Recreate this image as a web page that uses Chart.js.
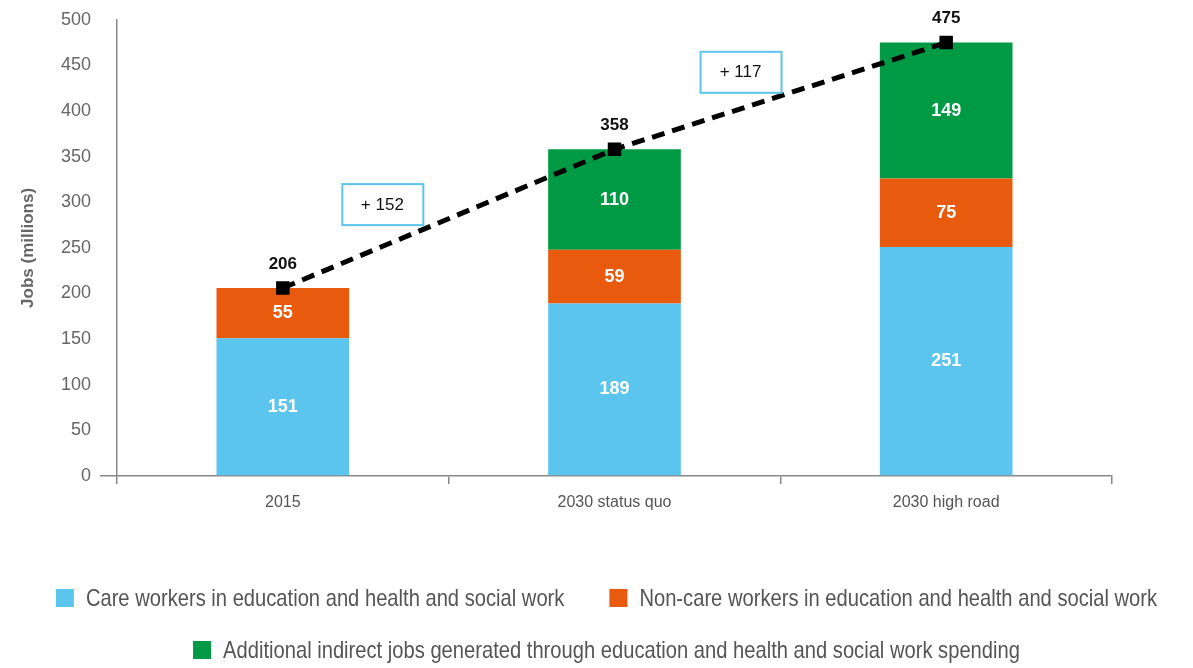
<!DOCTYPE html>
<html>
<head>
<meta charset="utf-8">
<script src="https://cdn.jsdelivr.net/npm/chart.js@4.4.1/dist/chart.umd.min.js"></script>
<style>
  html, body { margin: 0; padding: 0; background: #fff; }
  #wrap { width: 1193px; height: 668px; }
</style>
</head>
<body>
<div id="wrap"><canvas id="myChart" width="1193" height="668"></canvas></div>
<script>
const categories = ['2015', '2030 status quo', '2030 high road'];
const careWorkers = [151, 189, 251];
const nonCareWorkers = [55, 59, 75];
const indirectJobs = [0, 110, 149];
const totals = [206, 358, 475];
const yTicks = [0, 50, 100, 150, 200, 250, 300, 350, 400, 450, 500];
const seriesNames = [
    'Care workers in education and health and social work',
    'Non-care workers in education and health and social work',
    'Additional indirect jobs generated through education and health and social work spending'
];
// écarts: texte, position x (en unités de catégorie), valeur y
const deltaLabels = ['+ 152', '+ 117'];
const deltaX = [0.30, 1.38];
const deltaY = [298, 443];

const blue = '#5BC5EE';
const orange = '#E85A0E';
const green = '#009A44';
const gray = '#888888';

// Étiquettes des valeurs et encadrés des écarts
const labelsPlugin = {
    id: 'valueLabels',
    afterDatasetsDraw(chart) {
        const ctx = chart.ctx;
        ctx.save();
        ctx.textAlign = 'center';
        ctx.textBaseline = 'middle';
        chart.data.datasets.forEach((ds, i) => {
            const meta = chart.getDatasetMeta(i);
            meta.data.forEach((el, j) => {
                const v = ds.data[j];
                if (!v) return;
                if (ds.type === 'line') {
                    ctx.fillStyle = '#111';
                    ctx.font = 'bold 17px "Liberation Sans", Arial';
                    ctx.fillText(v, el.x, el.y - 24);
                } else {
                    ctx.fillStyle = '#fff';
                    ctx.font = 'bold 18px "Liberation Sans", Arial';
                    ctx.fillText(v, el.x, (el.y + el.base) / 2);
                }
            });
        });
        const xs = chart.scales.x, ys = chart.scales.y;
        const step = xs.getPixelForValue(1) - xs.getPixelForValue(0);
        deltaLabels.forEach((t, k) => {
            const cx = xs.getPixelForValue(0) + deltaX[k] * step;
            const cy = ys.getPixelForValue(deltaY[k]);
            ctx.fillStyle = '#fff';
            ctx.fillRect(cx - 40, cy - 20, 81, 41);
            ctx.strokeStyle = blue;
            ctx.lineWidth = 2;
            ctx.strokeRect(cx - 40, cy - 20, 81, 41);
            ctx.fillStyle = '#111';
            ctx.font = '17px "Liberation Sans", Arial';
            ctx.fillText(t, cx, cy + 1);
        });
        ctx.restore();
    }
};

// Légende dessinée à la main (police étroite simulée)
const legendPlugin = {
    id: 'narrowLegend',
    afterDraw(chart) {
        const ctx = chart.ctx;
        const sx = 0.84, box = 18, gap = 12, itemGap = 45;
        const rows = [[0, 1], [2]];
        const rowY = [598, 650];
        const colors = [blue, orange, green];
        const centerX = chart.width / 2 + 10;
        ctx.save();
        ctx.font = '24px "Liberation Sans", Arial';
        ctx.textBaseline = 'middle';
        ctx.textAlign = 'left';
        rows.forEach((row, r) => {
            const widths = row.map(i => box + gap + ctx.measureText(seriesNames[i]).width * sx);
            const total = widths.reduce((a, b) => a + b, 0) + itemGap * (row.length - 1);
            let x = centerX - total / 2;
            row.forEach((i, k) => {
                ctx.fillStyle = colors[i];
                ctx.fillRect(x, rowY[r] - box / 2, box, box);
                ctx.fillStyle = '#555';
                ctx.save();
                ctx.translate(x + box + gap, rowY[r] + 1);
                ctx.scale(sx, 1);
                ctx.fillText(seriesNames[i], 0, 0);
                ctx.restore();
                x += widths[k] + itemGap;
            });
        });
        ctx.restore();
    }
};

const ctx = document.getElementById('myChart').getContext('2d');

new Chart(ctx, {
    data: {
        labels: categories,
        datasets: [
            {
                type: 'line',
                label: 'Total',
                data: totals,
                stack: 'total',
                borderColor: '#000',
                borderWidth: 5,
                borderDash: [13, 8],
                pointStyle: 'rect',
                pointRadius: 6,
                pointBackgroundColor: '#000',
                pointBorderColor: '#000',
                fill: false,
                order: 0
            },
            { type: 'bar', label: seriesNames[0], data: careWorkers, backgroundColor: blue, stack: 'jobs', order: 1 },
            { type: 'bar', label: seriesNames[1], data: nonCareWorkers, backgroundColor: orange, stack: 'jobs', order: 1 },
            { type: 'bar', label: seriesNames[2], data: indirectJobs, backgroundColor: green, stack: 'jobs', order: 1 }
        ]
    },
    options: {
        responsive: false,
        animation: false,
        layout: { padding: { left: 0, right: 81, top: 8, bottom: 92 } },
        datasets: { bar: { categoryPercentage: 0.8, barPercentage: 0.5 } },
        scales: {
            x: {
                stacked: true,
                grid: { drawOnChartArea: false, color: gray, tickLength: 8, lineWidth: 1.5 },
                border: { color: gray, width: 1.5 },
                ticks: { color: '#555', font: { family: '"Liberation Sans", Arial', size: 16 }, padding: 9 },
                afterFit(scale) { scale.height = 100; }
            },
            y: {
                stacked: true,
                min: 0,
                max: 500,
                afterBuildTicks(scale) { scale.ticks = yTicks.map(v => ({ value: v })); },
                grid: {
                    drawOnChartArea: false,
                    tickLength: 17,
                    lineWidth: 1.5,
                    color: c => (c.tick && c.tick.value === 0 ? gray : 'rgba(0,0,0,0)')
                },
                border: { color: gray, width: 1.5 },
                ticks: { color: '#666', font: { family: '"Liberation Sans", Arial', size: 18 }, padding: 9 },
                title: {
                    display: true,
                    text: 'Jobs (millions)',
                    color: '#666',
                    padding: { top: 18, bottom: 0 },
                    font: { family: '"Liberation Sans", Arial', size: 17, weight: 'bold' }
                },
                afterFit(scale) { scale.width = 117; }
            }
        },
        plugins: {
            tooltip: { enabled: false },
            legend: { display: false }
        }
    },
    plugins: [labelsPlugin, legendPlugin]
});
</script>
</body>
</html>
